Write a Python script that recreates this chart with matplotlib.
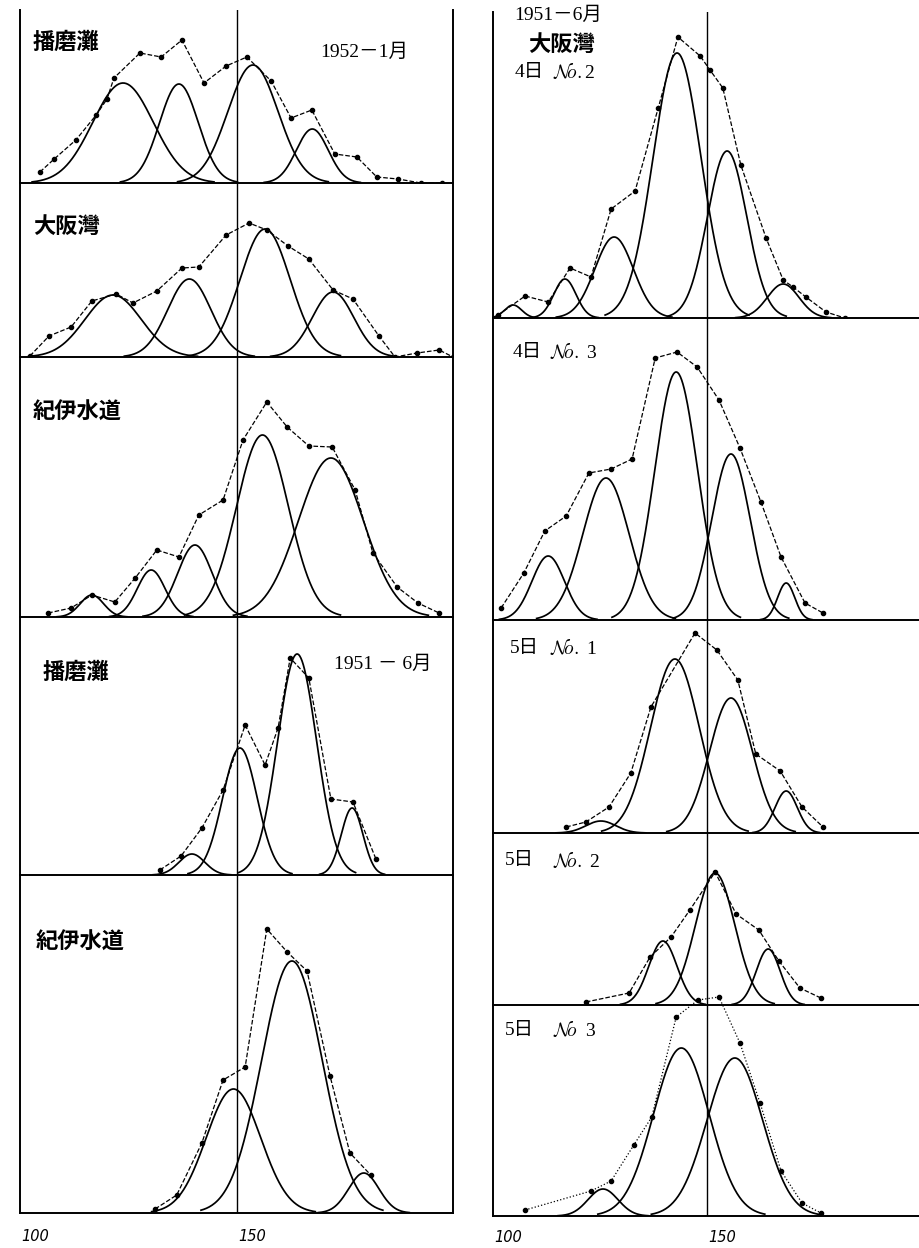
import numpy as np
import matplotlib
matplotlib.use("Agg")
import matplotlib.pyplot as plt

plt.rcParams['mathtext.fontset'] = 'cm'

W, H = 919, 1248

# ---------------- data (x = body length, y = frequency in drawing units) -------------
# Left column, panel 1: 播磨灘 1952-1月
L1_mean = [123.8, 136.7, 153.8, 167.5]
L1_amp = [100, 99, 118, 54]
L1_sd = [7.0, 4.5, 5.8, 3.7]
L1_obs_x = [104.6, 107.9, 112.9, 117.6, 120.1, 121.7, 127.7, 132.6, 137.4, 142.5, 147.6,
            152.4, 158.0, 162.6, 167.4, 172.7, 177.8, 182.4, 187.3, 192.6, 197.5]
L1_obs_y = [11, 24, 43, 68, 84, 105, 130, 126, 143, 100, 117, 126, 102, 65, 73, 29, 26, 6, 4, 0, 0]

# Left column, panel 2: 大阪灣
L2_mean = [121.5, 139.1, 156.6, 172.3]
L2_amp = [62, 78, 128, 65]
L2_sd = [6.5, 5.0, 5.8, 4.8]
L2_obs_x = [102.3, 106.7, 111.8, 116.6, 122.2, 126.1, 131.6, 137.4, 141.3, 147.6, 152.9,
            157.0, 161.9, 166.7, 172.3, 176.9, 182.9, 186.6, 191.7, 196.8, 200.0]
L2_obs_y = [1, 21, 30, 56, 63, 54, 66, 89, 90, 122, 134, 127, 111, 98, 67, 58, 21, 0, 4, 7, 0]

# Left column, panel 3: 紀伊水道
L3_mean = [116.6, 130.3, 140.4, 156.0, 171.8]
L3_amp = [22, 47, 72, 182, 159]
L3_sd = [2.7, 3.2, 4.0, 6.0, 7.5]
L3_obs_x = [106.5, 111.8, 116.6, 121.9, 126.6, 131.6, 136.7, 141.3, 146.9, 151.5, 157.0,
            161.7, 166.7, 172.1, 177.4, 181.5, 187.1, 191.9, 196.8]
L3_obs_y = [4, 9, 22, 15, 39, 67, 60, 102, 117, 177, 215, 190, 171, 170, 127, 64, 30, 14, 4]

# Left column, panel 4: 播磨灘 1951-6月
L4_mean = [139.7, 150.8, 164.0, 176.7]
L4_amp = [21, 127, 221, 67]
L4_sd = [3.0, 4.0, 4.5, 2.5]
L4_obs_x = [132.3, 137.2, 142.0, 146.9, 152.0, 156.6, 159.6, 162.4, 166.7, 171.8, 176.9, 182.2]
L4_obs_y = [5, 19, 47, 85, 150, 110, 147, 217, 197, 76, 73, 16]

# Left column, panel 5: 紀伊水道
L5_mean = [149.3, 162.8, 179.4]
L5_amp = [124, 252, 40]
L5_sd = [6.3, 7.0, 3.5]
L5_obs_x = [131.2, 136.2, 142.0, 146.9, 152.0, 157.0, 161.7, 166.3, 171.6, 176.2, 181.0]
L5_obs_y = [4, 18, 70, 133, 146, 284, 261, 242, 137, 60, 38]

# Right column, panel 1: 大阪灣 4日 No.2
R1_mean = [104.7, 116.8, 128.3, 143.0, 154.7, 167.8]
R1_amp = [13, 39, 81, 265, 167, 34]
R1_sd = [2.0, 2.6, 4.5, 5.6, 4.6, 3.7]
R1_obs_x = [101.2, 107.5, 112.9, 118.0, 122.9, 127.6, 133.2, 138.6, 143.2, 148.4, 150.7,
            153.7, 157.9, 163.8, 167.8, 170.1, 173.1, 177.8, 182.2]
R1_obs_y = [3, 22, 16, 50, 41, 109, 127, 210, 281, 262, 248, 230, 153, 80, 38, 31, 21, 6, 0]

# Right column, panel 2: 4日 No.3
R2_mean = [112.9, 126.4, 142.8, 155.6, 168.5]
R2_amp = [64, 142, 248, 166, 37]
R2_sd = [3.8, 5.4, 5.0, 4.5, 2.0]
R2_obs_x = [101.9, 107.2, 112.1, 117.1, 122.4, 127.6, 132.5, 137.9, 143.0, 147.7, 152.8,
            157.7, 162.6, 167.3, 172.9, 177.1]
R2_obs_y = [12, 47, 89, 104, 147, 151, 161, 262, 268, 253, 220, 172, 118, 63, 17, 7]

# Right column, panel 3: 5日 No.1
R3_mean = [125.2, 142.5, 155.6, 168.5]
R3_amp = [12, 174, 135, 42]
R3_sd = [3.5, 5.7, 5.0, 2.6]
R3_obs_x = [117.1, 121.7, 127.1, 132.2, 136.9, 147.2, 152.3, 157.2, 161.4, 167.1, 172.2, 177.1]
R3_obs_y = [6, 11, 26, 60, 126, 200, 183, 153, 79, 62, 26, 6]

# Right column, panel 4: 5日 No.2
R4_mean = [139.7, 151.9, 164.3]
R4_amp = [64, 132, 56]
R4_sd = [3.3, 4.6, 2.8]
R4_obs_x = [121.7, 131.8, 136.7, 141.6, 146.0, 151.9, 156.8, 162.1, 166.8, 171.7, 176.6]
R4_obs_y = [3, 12, 48, 68, 95, 133, 91, 75, 44, 17, 7]

# Right column, panel 5: 5日 No 3
R5_mean = [125.7, 144.0, 156.5]
R5_amp = [27, 168, 158]
R5_sd = [3.5, 6.5, 6.5]
R5_obs_x = [107.5, 122.9, 127.6, 132.9, 137.1, 142.8, 147.9, 152.8, 157.7, 162.4, 167.3,
            172.2, 176.6]
R5_obs_y = [6, 25, 35, 71, 99, 199, 216, 219, 173, 113, 45, 13, 3]

tick_values = [100, 150]
tick_labels = ['100', '150']

# ---------------- layout -------------
fig = plt.figure(figsize=(W / 100, H / 100), dpi=100)
fig.patch.set_facecolor('white')

CJK = ['Noto Sans CJK JP', 'DejaVu Sans']
SERIF = ['Liberation Serif', 'Noto Sans CJK JP']


def add_ax(l, r, t, b):
    return fig.add_axes([l / W, 1 - b / H, (r - l) / W, (b - t) / H])


def draw_panel(ax, means, amps, sds, ox, oy, height, xmax, right_spine, dash='--',
               clip=True):
    ax.set_xlim(100, xmax)
    ax.set_ylim(0, height)
    ax.set_xticks([])
    ax.set_yticks([])
    ax.patch.set_alpha(0)
    ax.spines['top'].set_visible(False)
    ax.spines['right'].set_visible(right_spine)
    for s in ['left', 'bottom', 'right']:
        ax.spines[s].set_linewidth(1.4)
        ax.spines[s].set_color('black')
    ax.axvline(150, color='black', lw=1.0)
    for m, a, s in zip(means, amps, sds):
        x = np.linspace(m - 3 * s, m + 3 * s, 200)
        ax.plot(x, a * np.exp(-0.5 * ((x - m) / s) ** 2), color='black', lw=1.25)
    ax.plot(ox, oy, linestyle=dash, color='black', lw=0.9, clip_on=clip)
    ax.plot(ox, oy, linestyle='none', marker='o', ms=3.0, mfc='black', mec='black',
            clip_on=clip)


left_panels = [(10, 183), (183, 357), (357, 617), (617, 875), (875, 1213)]
right_panels = [(12, 318), (318, 620), (620, 833), (833, 1005), (1005, 1216)]
left_data = [(L1_mean, L1_amp, L1_sd, L1_obs_x, L1_obs_y),
             (L2_mean, L2_amp, L2_sd, L2_obs_x, L2_obs_y),
             (L3_mean, L3_amp, L3_sd, L3_obs_x, L3_obs_y),
             (L4_mean, L4_amp, L4_sd, L4_obs_x, L4_obs_y),
             (L5_mean, L5_amp, L5_sd, L5_obs_x, L5_obs_y)]
right_data = [(R1_mean, R1_amp, R1_sd, R1_obs_x, R1_obs_y),
              (R2_mean, R2_amp, R2_sd, R2_obs_x, R2_obs_y),
              (R3_mean, R3_amp, R3_sd, R3_obs_x, R3_obs_y),
              (R4_mean, R4_amp, R4_sd, R4_obs_x, R4_obs_y),
              (R5_mean, R5_amp, R5_sd, R5_obs_x, R5_obs_y)]

L_LEFT, L_RIGHT = 20, 453
R_LEFT, R_RIGHT = 493, 919
L_XMAX = 100 + (L_RIGHT - L_LEFT) / 4.33
R_XMAX = 100 + (R_RIGHT - R_LEFT) / 4.28

left_axes = []
for (t, b), d in zip(left_panels, left_data):
    ax = add_ax(L_LEFT, L_RIGHT, t, b)
    draw_panel(ax, *d, height=b - t, xmax=L_XMAX, right_spine=True)
    left_axes.append(ax)

right_axes = []
for i, ((t, b), d) in enumerate(zip(right_panels, right_data)):
    ax = add_ax(R_LEFT, R_RIGHT, t, b)
    draw_panel(ax, *d, height=b - t, xmax=R_XMAX, right_spine=False,
               dash=':' if i == 4 else '--', clip=(i != 4))
    right_axes.append(ax)

# axis labels under the bottom panels
for ax, dy in ((left_axes[-1], -0.07), (right_axes[-1], -0.1)):
    for v, lab in zip(tick_values, tick_labels):
        ax.text(v + 0.3, dy, lab, transform=ax.get_xaxis_transform(), ha='left',
                va='center', fontsize=10.5, style='italic', family='DejaVu Sans')


def ftext(x, y, s, size, family, weight='normal'):
    fig.text(x / W, 1 - y / H, s, fontsize=size, family=family, weight=weight,
             ha='left', va='center')


# left column texts
ftext(33, 42, '播磨灘', 16, CJK, 'bold')
ftext(320, 52, '1952－1月', 14, SERIF)
ftext(33, 226, '大阪灣', 16, CJK, 'bold')
ftext(33, 412, '紀伊水道', 16, CJK, 'bold')
ftext(43, 672, '播磨灘', 16, CJK, 'bold')
ftext(334, 664, '1951 － 6月', 14, SERIF)
ftext(36, 942, '紀伊水道', 16, CJK, 'bold')

# right column texts
ftext(514, 15, '1951－6月', 14, SERIF)
ftext(528, 44, '大阪灣', 16, CJK, 'bold')
day_labels = [(515, 72, '4日', 553, r'$\mathcal{N}\!o.$2'),
              (513, 352, '4日', 550, r'$\mathcal{N}\!o.$ 3'),
              (510, 648, '5日', 550, r'$\mathcal{N}\!o.$ 1'),
              (505, 861, '5日', 553, r'$\mathcal{N}\!o.$ 2'),
              (505, 1030, '5日', 553, r'$\mathcal{N}\!o$  3')]
for x1, y, day, x2, no in day_labels:
    ftext(x1, y, day, 14, SERIF)
    ftext(x2, y, no, 14, SERIF)

fig.savefig('out.png', dpi=100, facecolor='white')
